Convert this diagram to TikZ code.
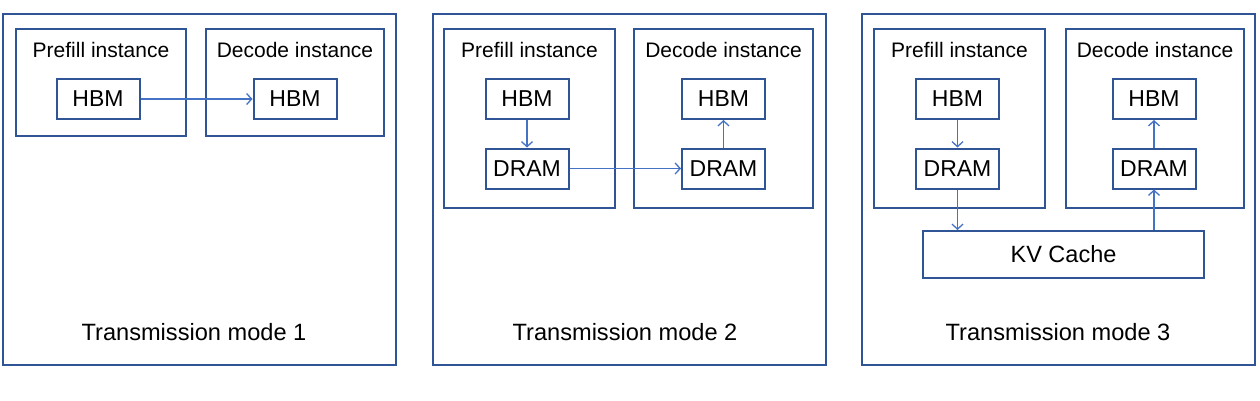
\documentclass[tikz,border=0pt]{standalone}
\usepackage{fontspec}
\setmainfont{Liberation Sans}
\usetikzlibrary{arrows.meta}
\definecolor{frame}{HTML}{2F5597}
\definecolor{arr}{HTML}{4472C4}
\tikzset{
  panel/.style={draw=frame, line width=2pt, inner sep=0pt},
  inst/.style={draw=frame, line width=2pt, inner sep=0pt},
  mem/.style={draw=frame, line width=2pt, inner sep=0pt, minimum width=83pt, minimum height=40pt, font=\fontsize{23}{27}\selectfont},
  lbl/.style={inner sep=0pt, font=\fontsize{21}{25}\selectfont},
  title/.style={inner sep=0pt, font=\fontsize{23.6}{28}\selectfont},
  flow/.style={draw=arr, line width=1.3pt, -{Straight Barb[length=5pt,width=11pt,line width=1.3pt]}}
}
\begin{document}
\begin{tikzpicture}[x=1pt,y=-1pt]
\useasboundingbox (0,0) rectangle (1260,400);
% Panel 1
\node[panel, minimum width=393pt, minimum height=351pt] (p1) at (199.5,189.5) {};
\node[inst, minimum width=170pt, minimum height=107pt] (pre1) at (101,82.5) {};
\node[inst, minimum width=178pt, minimum height=107pt] (dec1) at (295,82.5) {};
\node[lbl] (pre1l) at (101,50) {Prefill instance};
\node[lbl] (dec1l) at (295,50) {Decode instance};
\node[mem] (h1a) at (98,99) {HBM};
\node[mem] (h1b) at (295,99) {HBM};
\node[title] (t1) at (194,332) {Transmission mode 1};
\draw[flow] (h1a) -- (h1b);
% Panel 2
\node[panel, minimum width=393pt, minimum height=351pt] (p2) at (629.5,189.5) {};
\node[inst, minimum width=171pt, minimum height=179pt] (pre2) at (529.5,118.5) {};
\node[inst, minimum width=179pt, minimum height=179pt] (dec2) at (723.5,118.5) {};
\node[lbl] (pre2l) at (529.5,50) {Prefill instance};
\node[lbl] (dec2l) at (723.5,50) {Decode instance};
\node[mem] (h2a) at (527,99) {HBM};
\node[mem] (d2a) at (527,168.5) {DRAM};
\node[mem] (h2b) at (723.5,99) {HBM};
\node[mem] (d2b) at (723.5,168.5) {DRAM};
\node[title] (t2) at (625,332) {Transmission mode 2};
\draw[flow] (h2a) -- (d2a);
\draw[flow] (d2a) -- (d2b);
\draw[flow] (d2b) -- (h2b);
% Panel 3
\node[panel, minimum width=393pt, minimum height=351pt] (p3) at (1058.5,189.5) {};
\node[inst, minimum width=171pt, minimum height=179pt] (pre3) at (959.5,118.5) {};
\node[inst, minimum width=178pt, minimum height=179pt] (dec3) at (1155,118.5) {};
\node[lbl] (pre3l) at (959.5,50) {Prefill instance};
\node[lbl] (dec3l) at (1155,50) {Decode instance};
\node[mem] (h3a) at (957.5,99) {HBM};
\node[mem] (d3a) at (957.5,168.5) {DRAM};
\node[mem] (h3b) at (1154,99) {HBM};
\node[mem] (d3b) at (1154,168.5) {DRAM};
\node[draw=frame, line width=2pt, inner sep=0pt, minimum width=281pt, minimum height=47pt, font=\fontsize{23.5}{28}\selectfont] (kv) at (1063.5,254.5) {KV Cache};
\node[title] (t3) at (1058,332) {Transmission mode 3};
\draw[flow] (h3a) -- (d3a);
\draw[flow] (d3a.south) -- (d3a.south |- kv.north);
\draw[flow] (d3b.south |- kv.north) -- (d3b.south);
\draw[flow] (h3b.south |- d3b.north) -- (h3b.south);
\end{tikzpicture}
\end{document}
